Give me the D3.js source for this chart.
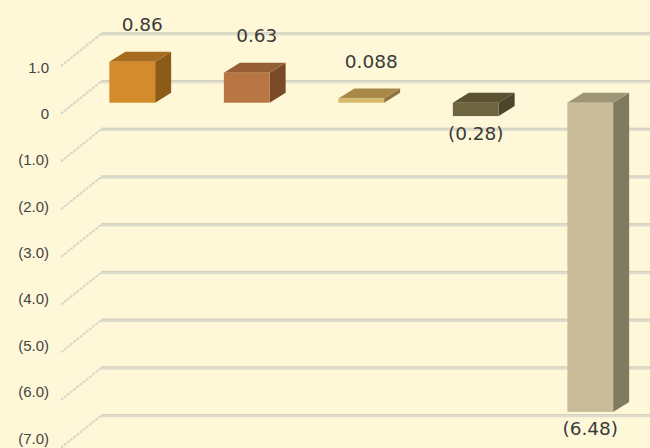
<!DOCTYPE html>
<html>
<head>
<meta charset="utf-8">
<script src="https://cdn.jsdelivr.net/npm/d3@7"></script>
<style>
  html, body { margin: 0; padding: 0; background: #FEF8D8; }
  svg { display: block; }
</style>
</head>
<body>
<svg id="chart" width="650" height="448"></svg>
<script>
// ---- data ----
const categories = ["A", "B", "C", "D", "E"];
const values = [0.86, 0.63, 0.088, -0.28, -6.48];
const valueLabels = ["0.86", "0.63", "0.088", "(0.28)", "(6.48)"];
const tickValues = [1, 0, -1, -2, -3, -4, -5, -6, -7];
const tickLabels = ["1.0", "0", "(1.0)", "(2.0)", "(3.0)", "(4.0)", "(5.0)", "(6.0)", "(7.0)"];
const frontColors = ["#D38B2B", "#B87645", "#D8B86A", "#6E6440", "#C8BD98"];
const topColors   = ["#A56C1F", "#965E35", "#A8894A", "#5B5234", "#9E9677"];
const sideColors  = ["#8C5B17", "#7A4A28", "#8E7340", "#4C442B", "#817A5E"];

// ---- layout ----
const W = 650, H = 448;
const svg = d3.select("#chart");
const depthDX = 40, depthDY = 32;     // wall depth
const barDX = 16, barDY = 10;         // bar depth
const barShiftY = 11;                 // bar front plane offset from the front wall

const y = d3.scaleLinear().domain([-7, 1]).range([447.75, 66]);
const yLab = d3.scaleLinear().domain([-7, 1]).range([438, 67]);
const x = d3.scaleBand().domain(categories).range([75, 647.5])
  .paddingInner(0.6).paddingOuter(0.3);
const frontLeft = 61;

// ---- grid ----
const grid = svg.append("g");
tickValues.forEach(t => {
  const yf = y(t), yb = y(t) - depthDY;
  grid.append("line")
    .attr("x1", frontLeft).attr("y1", yf)
    .attr("x2", frontLeft + depthDX).attr("y2", yb)
    .attr("stroke", "#D8D6C8").attr("stroke-width", 2)
    .attr("stroke-dasharray", "3,1");
  grid.append("line")
    .attr("x1", frontLeft + depthDX).attr("y1", yb)
    .attr("x2", W).attr("y2", yb)
    .attr("stroke", "#DEDCCC").attr("stroke-width", 3.2);
  grid.append("line")
    .attr("x1", frontLeft + depthDX).attr("y1", yb - 1.2)
    .attr("x2", W).attr("y2", yb - 1.2)
    .attr("stroke", "#D0CDB9").attr("stroke-width", 0.8);
});

// axis labels
svg.append("g").selectAll("text").data(tickValues).join("text")
  .attr("x", 49).attr("y", d => yLab(d))
  .attr("text-anchor", "end").attr("dominant-baseline", "central")
  .attr("font-family", "Liberation Sans, Arial, sans-serif")
  .attr("font-size", 15).attr("fill", "#444")
  .text((d, i) => tickLabels[i]);

// ---- bars ----
const yb = v => y(v) - barShiftY;
const bars = svg.append("g");
values.forEach((v, i) => {
  const x0 = x(categories[i]), x1 = x0 + x.bandwidth();
  const yTop = yb(Math.max(v, 0)), yBot = yb(Math.min(v, 0));
  const g = bars.append("g");
  g.append("path")
    .attr("d", `M${x1},${yTop} L${x1 + barDX},${yTop - barDY} L${x1 + barDX},${yBot - barDY} L${x1},${yBot} Z`)
    .attr("fill", sideColors[i]);
  g.append("path")
    .attr("d", `M${x0},${yTop} L${x0 + barDX},${yTop - barDY} L${x1 + barDX},${yTop - barDY} L${x1},${yTop} Z`)
    .attr("fill", topColors[i]);
  g.append("rect")
    .attr("x", x0).attr("y", yTop)
    .attr("width", x.bandwidth()).attr("height", Math.max(yBot - yTop, 0.5))
    .attr("fill", frontColors[i]);
});

// value labels
svg.append("g").selectAll("text").data(values).join("text")
  .attr("x", (d, i) => x(categories[i]) + x.bandwidth() / 2 + (d >= 0 ? 10 : 0))
  .attr("y", d => d >= 0 ? yb(d) - barDY - 27 : yb(d) + 17)
  .attr("text-anchor", "middle").attr("dominant-baseline", "central")
  .attr("font-family", "DejaVu Sans, sans-serif")
  .attr("font-size", 18.5).attr("fill", "#3A3A3A")
  .text((d, i) => valueLabels[i]);
</script>
</body>
</html>
